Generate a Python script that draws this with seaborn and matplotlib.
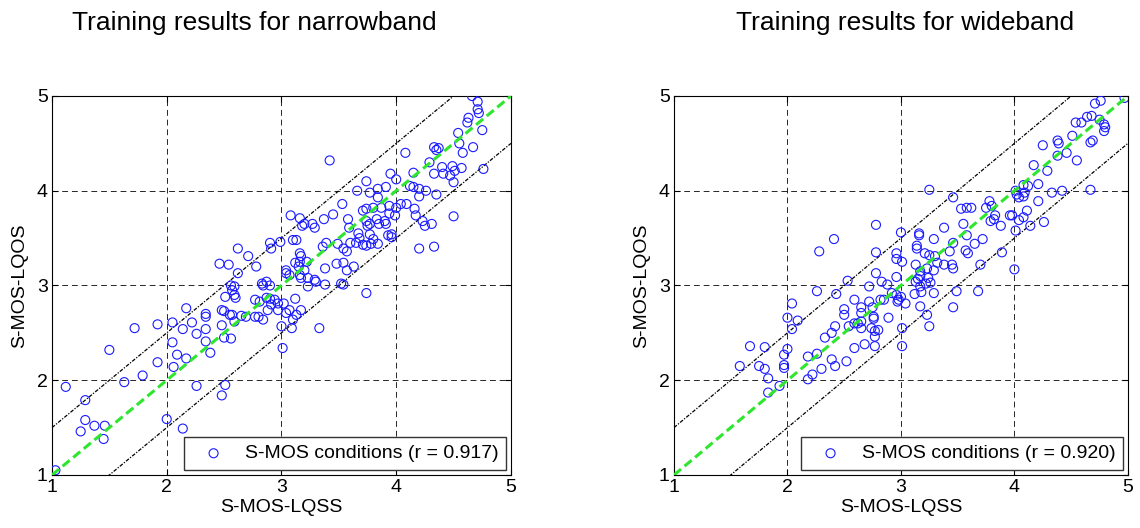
import pandas as pd
import matplotlib
matplotlib.use('Agg')
import matplotlib.pyplot as plt
import seaborn as sns

# narrowband training points (S-MOS-LQSS, S-MOS-LQOS)
nb_x = [1.03, 1.12, 1.29, 1.29, 1.25, 1.37, 1.46, 1.45, 1.50, 1.63, 1.72, 1.79, 1.92, 1.92, 2.00, 2.05,
        2.05, 2.06, 2.09, 2.14, 2.17, 2.17, 2.14, 2.22, 2.26, 2.26, 2.34, 2.34, 2.34, 2.34, 2.38, 2.48,
        2.50, 2.48, 2.50, 2.51, 2.51, 2.48, 2.55, 2.57, 2.56, 2.57, 2.59, 2.59, 2.56, 2.60, 2.59, 2.65,
        2.69, 2.80, 2.84, 2.81, 2.84, 2.90, 2.90, 2.91, 2.97, 2.97, 2.94, 2.77, 2.88, 2.77, 2.87,
        2.62, 2.46, 2.54, 2.71, 2.78, 2.62, 2.90, 2.91, 2.99, 2.83, 2.87,
        3.10, 3.13, 3.16, 3.17, 3.16, 3.12, 3.15, 3.04, 3.04, 3.07, 3.16, 3.17, 3.23, 3.29, 3.23, 3.38,
        3.38, 3.20, 3.22, 3.12, 3.07, 3.04, 3.13, 3.10, 3.09, 3.00, 3.01, 3.33, 3.54, 3.57, 3.60, 3.65,
        3.68, 3.67, 3.71, 3.54, 3.57, 3.63, 3.74, 3.54, 3.39, 3.36, 3.02, 3.17, 3.48, 3.52, 3.30, 3.49,
        3.74,
        4.66, 4.71, 4.71, 4.72, 4.63, 4.62, 4.75, 4.54, 4.55, 4.67, 4.58, 4.33, 4.35, 4.37, 4.08, 3.42,
        4.29, 4.40, 4.49, 4.51, 4.57, 4.41, 4.47, 4.33, 4.76, 4.15, 3.95, 4.00, 3.74, 4.12, 4.15, 4.20,
        4.20, 4.26, 4.35, 3.91, 3.84, 3.77, 3.84, 3.66, 4.50, 3.53, 3.71, 3.74, 3.80, 3.87, 3.94, 4.00,
        4.04, 4.09, 4.16, 4.17, 3.99, 3.94, 3.58, 3.37, 3.45, 3.08, 3.16, 3.20, 3.27, 3.29, 3.18, 3.74,
        3.77, 3.75, 3.83, 3.90, 3.91, 3.85, 4.23, 4.25, 4.31, 4.50, 4.20, 4.33, 3.93, 3.96, 3.77, 3.80,
        3.78, 3.84, 3.96, 3.59]
nb_y = [1.05, 1.93, 1.79, 1.58, 1.46, 1.52, 1.52, 1.38, 2.32, 1.98, 2.55, 2.05, 2.59, 2.19, 1.59, 2.61,
        2.40, 2.14, 2.27, 2.54, 2.76, 2.23, 1.49, 2.61, 2.49, 1.94, 2.67, 2.70, 2.54, 2.41, 2.29, 2.74,
        2.73, 2.58, 2.45, 2.88, 1.95, 1.84, 2.69, 2.69, 2.44, 2.95, 2.90, 2.99, 3.00, 2.87, 2.62, 2.68,
        2.67, 2.67, 2.64, 2.83, 3.00, 3.00, 2.86, 2.80, 2.81, 2.74, 2.85, 2.67, 2.74, 2.85, 2.87,
        3.39, 3.23, 3.22, 3.31, 3.20, 3.13, 3.45, 3.39, 3.46, 3.02, 3.04,
        3.48, 3.48, 3.34, 3.31, 3.25, 3.24, 3.20, 3.16, 3.13, 3.11, 3.11, 3.08, 3.08, 3.06, 2.99, 3.01,
        3.18, 3.16, 3.25, 2.86, 2.74, 2.71, 2.69, 2.64, 2.55, 2.57, 2.34, 2.55, 3.39, 3.36, 3.45, 3.45,
        3.50, 3.55, 3.43, 3.24, 3.16, 3.20, 2.92, 3.01, 3.45, 3.41, 2.81, 2.74, 3.23, 3.02, 3.04, 3.44,
        3.42,
        5.00, 4.94, 4.86, 4.82, 4.77, 4.72, 4.64, 4.61, 4.50, 4.46, 4.40, 4.46, 4.43, 4.45, 4.40, 4.32,
        4.30, 4.25, 4.26, 4.21, 4.24, 4.18, 4.16, 4.18, 4.23, 4.19, 4.18, 4.12, 4.10, 4.05, 4.04, 4.02,
        3.94, 4.00, 3.96, 4.04, 4.02, 3.98, 3.93, 4.00, 4.09, 3.86, 3.79, 3.81, 3.82, 3.82, 3.84, 3.82,
        3.86, 3.86, 3.81, 3.74, 3.74, 3.76, 3.70, 3.70, 3.75, 3.74, 3.71, 3.65, 3.65, 3.61, 3.63, 3.68,
        3.65, 3.63, 3.70, 3.68, 3.65, 3.65, 3.68, 3.63, 3.65, 3.73, 3.39, 3.41, 3.53, 3.51, 3.54, 3.49,
        3.44, 3.44, 3.54, 3.61]

# wideband training points
wb_x = [1.58, 1.67, 1.75, 1.80, 1.80, 1.83, 1.83, 1.93, 1.97, 1.97, 1.97, 2.00, 2.00, 2.04, 2.04, 2.09,
        2.18, 2.18,
        2.22, 2.26, 2.26, 2.30, 2.33, 2.39, 2.39, 2.42, 2.42, 2.43, 2.50, 2.50, 2.52, 2.54, 2.59, 2.59,
        2.59, 2.62, 2.65, 2.65, 2.65, 2.65, 2.68, 2.72, 2.72, 2.74, 2.75, 2.76, 2.76, 2.77, 2.77, 2.77,
        2.80, 2.82, 2.85, 2.89, 2.92, 2.96, 2.98, 2.97,
        2.78, 2.41, 2.28, 2.78, 2.96, 2.96, 2.78, 2.83, 2.88, 2.53, 2.96,
        3.01, 3.16, 3.16, 3.14, 3.14, 3.13, 3.21, 3.29, 3.38, 3.55, 3.58, 3.65, 3.72, 3.57, 3.59, 3.46,
        3.43, 3.30, 3.32, 3.25, 3.38, 3.45, 3.46, 3.29, 3.23, 3.17, 3.17, 3.15, 3.13, 3.24, 3.26, 3.17,
        3.12, 3.18, 3.29, 3.49, 3.68, 3.46, 3.17, 3.23, 3.25, 3.04, 3.00, 3.01, 3.01, 3.00, 3.22, 3.70,
        4.97, 4.71, 4.76, 4.54, 4.59, 4.64, 4.68, 4.75, 4.79, 4.80, 4.79, 4.67, 4.69, 4.51, 4.55, 4.38,
        4.39, 4.25, 4.46, 4.38, 4.17, 4.29, 4.21, 4.33, 4.42, 4.67, 4.12, 4.08, 4.01, 4.02, 4.04, 4.08,
        4.09, 4.21, 4.11, 4.26, 4.14, 4.08, 4.04, 3.98, 3.25, 3.46, 3.78, 3.80, 3.75, 3.53, 3.58, 3.62,
        3.83, 3.82, 3.79, 3.88, 3.96, 4.01, 3.89, 4.00]
wb_y = [2.15, 2.36, 2.15, 2.12, 2.35, 2.02, 1.87, 1.94, 2.27, 2.16, 2.13, 2.33, 2.66, 2.81, 2.54, 2.63,
        2.25, 2.01,
        2.06, 2.28, 2.94, 2.12, 2.45, 2.50, 2.22, 2.57, 2.15, 2.91, 2.75, 2.69, 2.20, 2.57, 2.85, 2.34,
        2.60, 2.60, 2.77, 2.71, 2.62, 2.55, 2.38, 2.83, 2.99, 2.55, 2.77, 2.67, 2.65, 2.46, 2.36, 2.52,
        2.53, 2.85, 2.85, 2.66, 2.92, 2.90, 2.85, 2.83,
        3.64, 3.49, 3.36, 3.35, 3.34, 3.28, 3.13, 3.04, 3.01, 3.05, 3.09,
        3.25, 3.55, 3.53, 3.42, 3.39, 3.22, 3.34, 3.49, 3.61, 3.65, 3.53, 3.44, 3.49, 3.37, 3.34, 3.45,
        3.36, 3.31, 3.24, 3.32, 3.22, 3.22, 3.18, 3.16, 3.18, 3.15, 3.10, 3.07, 3.04, 3.08, 3.03, 2.99,
        2.91, 2.93, 2.92, 2.94, 2.94, 2.77, 2.78, 2.69, 2.57, 2.81, 2.88, 2.55, 2.36, 3.56, 3.02, 3.22,
        4.98, 4.92, 4.95, 4.72, 4.72, 4.78, 4.79, 4.75, 4.70, 4.67, 4.63, 4.51, 4.53, 4.58, 4.32, 4.53,
        4.50, 4.48, 4.40, 4.37, 4.27, 4.21, 4.07, 3.98, 4.00, 4.01, 4.05, 4.06, 4.00, 3.96, 3.93, 3.94,
        3.98, 3.89, 3.79, 3.67, 3.63, 3.72, 3.69, 3.74, 4.01, 3.93, 3.89, 3.84, 3.82, 3.81, 3.82, 3.82,
        3.74, 3.70, 3.68, 3.63, 3.74, 3.58, 3.35, 3.17]

nb_r = 0.917
wb_r = 0.920
ticks = [1, 2, 3, 4, 5]
diag = [1, 5]
band = 0.5

sns.set_style('white')
plt.rcParams['font.family'] = ['Liberation Sans', 'DejaVu Sans']
plt.rcParams.update({'text.color': 'black', 'axes.labelcolor': 'black',
                     'xtick.color': 'black', 'ytick.color': 'black'})

fig = plt.figure(figsize=(11.4, 5.28), dpi=100)
ax1 = fig.add_axes([0.0456, 0.1004, 0.4026, 0.7178])
ax2 = fig.add_axes([0.5912, 0.1004, 0.3982, 0.7178])


def draw(ax, xs, ys, r):
    df = pd.DataFrame({'lqss': xs, 'lqos': ys})
    # reference lines: y = x and the +/- 0.5 band
    ax.plot(diag, [d + band for d in diag], color='black', lw=0.9, dashes=(3, 1.2, 1, 1.2), zorder=2)
    ax.plot(diag, [d - band for d in diag], color='black', lw=0.9, dashes=(3, 1.2, 1, 1.2), zorder=2)
    sns.scatterplot(data=df, x='lqss', y='lqos', ax=ax, marker='o', s=42,
                    facecolors='none', edgecolor='#1a1aff', linewidth=0.8,
                    label=f'S-MOS conditions (r = {r:.3f})', zorder=3)
    ax.plot(diag, diag, color='#2ee62e', lw=2.2, dashes=(3, 1.5), zorder=4)

    ax.set_xlim(1, 5)
    ax.set_ylim(1, 5)
    ax.set_xticks(ticks)
    ax.set_yticks(ticks)
    ax.grid(True, color='black', lw=0.7, ls=(0, (6, 4)), alpha=0.85)
    ax.set_axisbelow(True)
    ax.tick_params(direction='in', length=4, top=True, right=True, labelsize=14, pad=3,
                   bottom=True, left=True)
    for sp in ax.spines.values():
        sp.set_color('black')
        sp.set_linewidth(0.8)
    ax.set_xlabel('S-MOS-LQSS', fontsize=14, labelpad=2)
    ax.set_ylabel('S-MOS-LQOS', fontsize=14, labelpad=6)
    ax.legend(loc='lower right', fontsize=14, frameon=True, fancybox=False, edgecolor='#333333',
              framealpha=1, borderaxespad=0.25, borderpad=0.4, handletextpad=0.5, handlelength=2.2)


draw(ax1, nb_x, nb_y, nb_r)
draw(ax2, wb_x, wb_y, wb_r)

fig.text(0.223, 0.956, 'Training results for narrowband', ha='center', va='center', fontsize=19)
fig.text(0.794, 0.956, 'Training results for wideband', ha='center', va='center', fontsize=19)

fig.savefig('out.png', dpi=100)
